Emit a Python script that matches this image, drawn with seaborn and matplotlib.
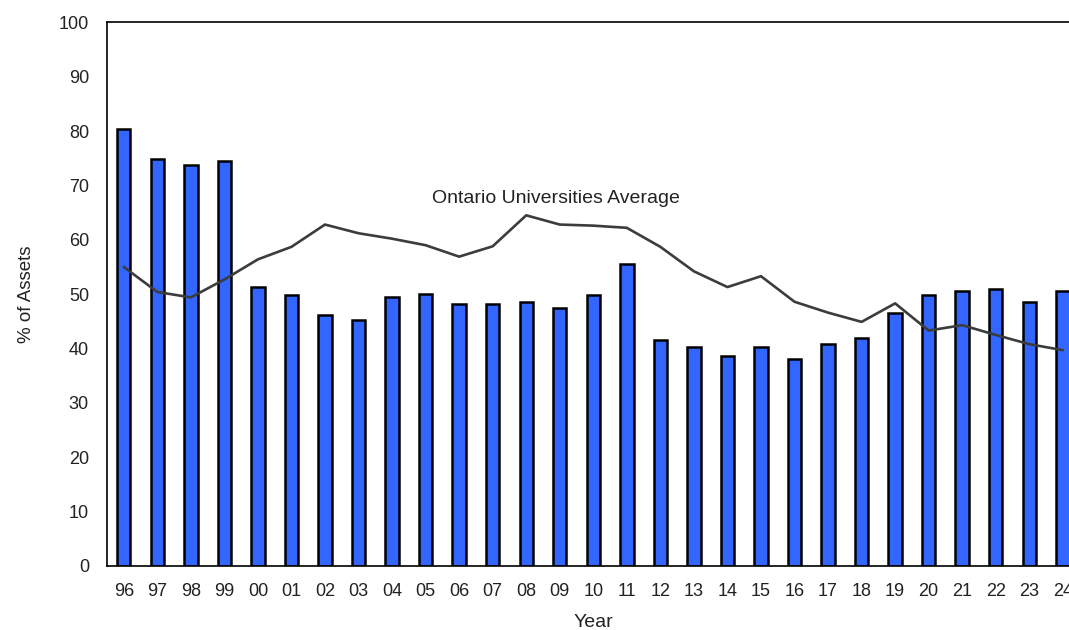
import numpy as np
import pandas as pd
import matplotlib
matplotlib.use("Agg")
import matplotlib.pyplot as plt
import seaborn as sns

years = ['96', '97', '98', '99', '00', '01', '02', '03', '04', '05', '06', '07', '08', '09', '10',
         '11', '12', '13', '14', '15', '16', '17', '18', '19', '20', '21', '22', '23', '24']

# % of assets, this university
pct_assets = [80.3, 74.8, 73.7, 74.5, 51.4, 49.8, 46.1, 45.3, 49.4, 50.1, 48.1, 48.2, 48.5, 47.5, 49.9,
              55.5, 41.6, 40.2, 38.6, 40.2, 38.0, 40.8, 41.9, 46.6, 49.9, 50.5, 51.0, 48.5, 50.5]

# Ontario universities average
ont_avg = [55.0, 50.4, 49.4, 52.7, 56.4, 58.7, 62.8, 61.2, 60.2, 59.0, 56.9, 58.8, 64.5, 62.8, 62.6,
           62.2, 58.7, 54.2, 51.3, 53.3, 48.6, 46.6, 44.9, 48.3, 43.3, 44.3, 42.5, 40.8, 39.7]

df = pd.DataFrame({'Year': years, 'Pct': pct_assets, 'Avg': ont_avg})

sns.set_style("white")
plt.rcParams['font.family'] = ['Liberation Sans', 'DejaVu Sans']

fig = plt.figure(figsize=(10.69, 6.30), dpi=100)
ax = fig.add_axes([0.1001, 0.1016, 0.9098, 0.8630])

sns.barplot(data=df, x='Year', y='Pct', color='#3366FF', saturation=1, width=0.4,
            edgecolor='black', linewidth=1.8, ax=ax)
sns.lineplot(x=np.arange(len(years)), y=df['Avg'], color='#3c3c3c', linewidth=1.9, ax=ax)

ax.text(12.89, 67.6, 'Ontario Universities Average', ha='center', va='center',
        fontsize=14, color='#222222')

n = len(years)
ax.set_xlim(-0.5, n - 0.5)
ax.set_ylim(0, 100)
ax.set_yticks(range(0, 101, 10))

# tick marks between the bars, labels under them
ax.set_xticks(np.arange(n + 1) - 0.5)
ax.set_xticklabels([])
ax.set_xticks(np.arange(n), minor=True)
ax.set_xticklabels(years, minor=True)
ax.tick_params(axis='x', which='major', direction='inout', length=12, width=1.2, color='black')
ax.tick_params(axis='x', which='minor', length=0, pad=12, labelsize=13, labelcolor='#222222')
ax.tick_params(axis='y', direction='inout', length=12, width=1.2, color='black',
               labelsize=13, labelcolor='#222222', pad=7)

for s in ax.spines.values():
    s.set_color('black')
    s.set_linewidth(1.2)

ax.set_xlabel('Year', fontsize=14, color='#222222', labelpad=10)
ax.set_ylabel('% of Assets', fontsize=13.5, color='#222222', labelpad=17)

plt.savefig('out.png', dpi=100)
